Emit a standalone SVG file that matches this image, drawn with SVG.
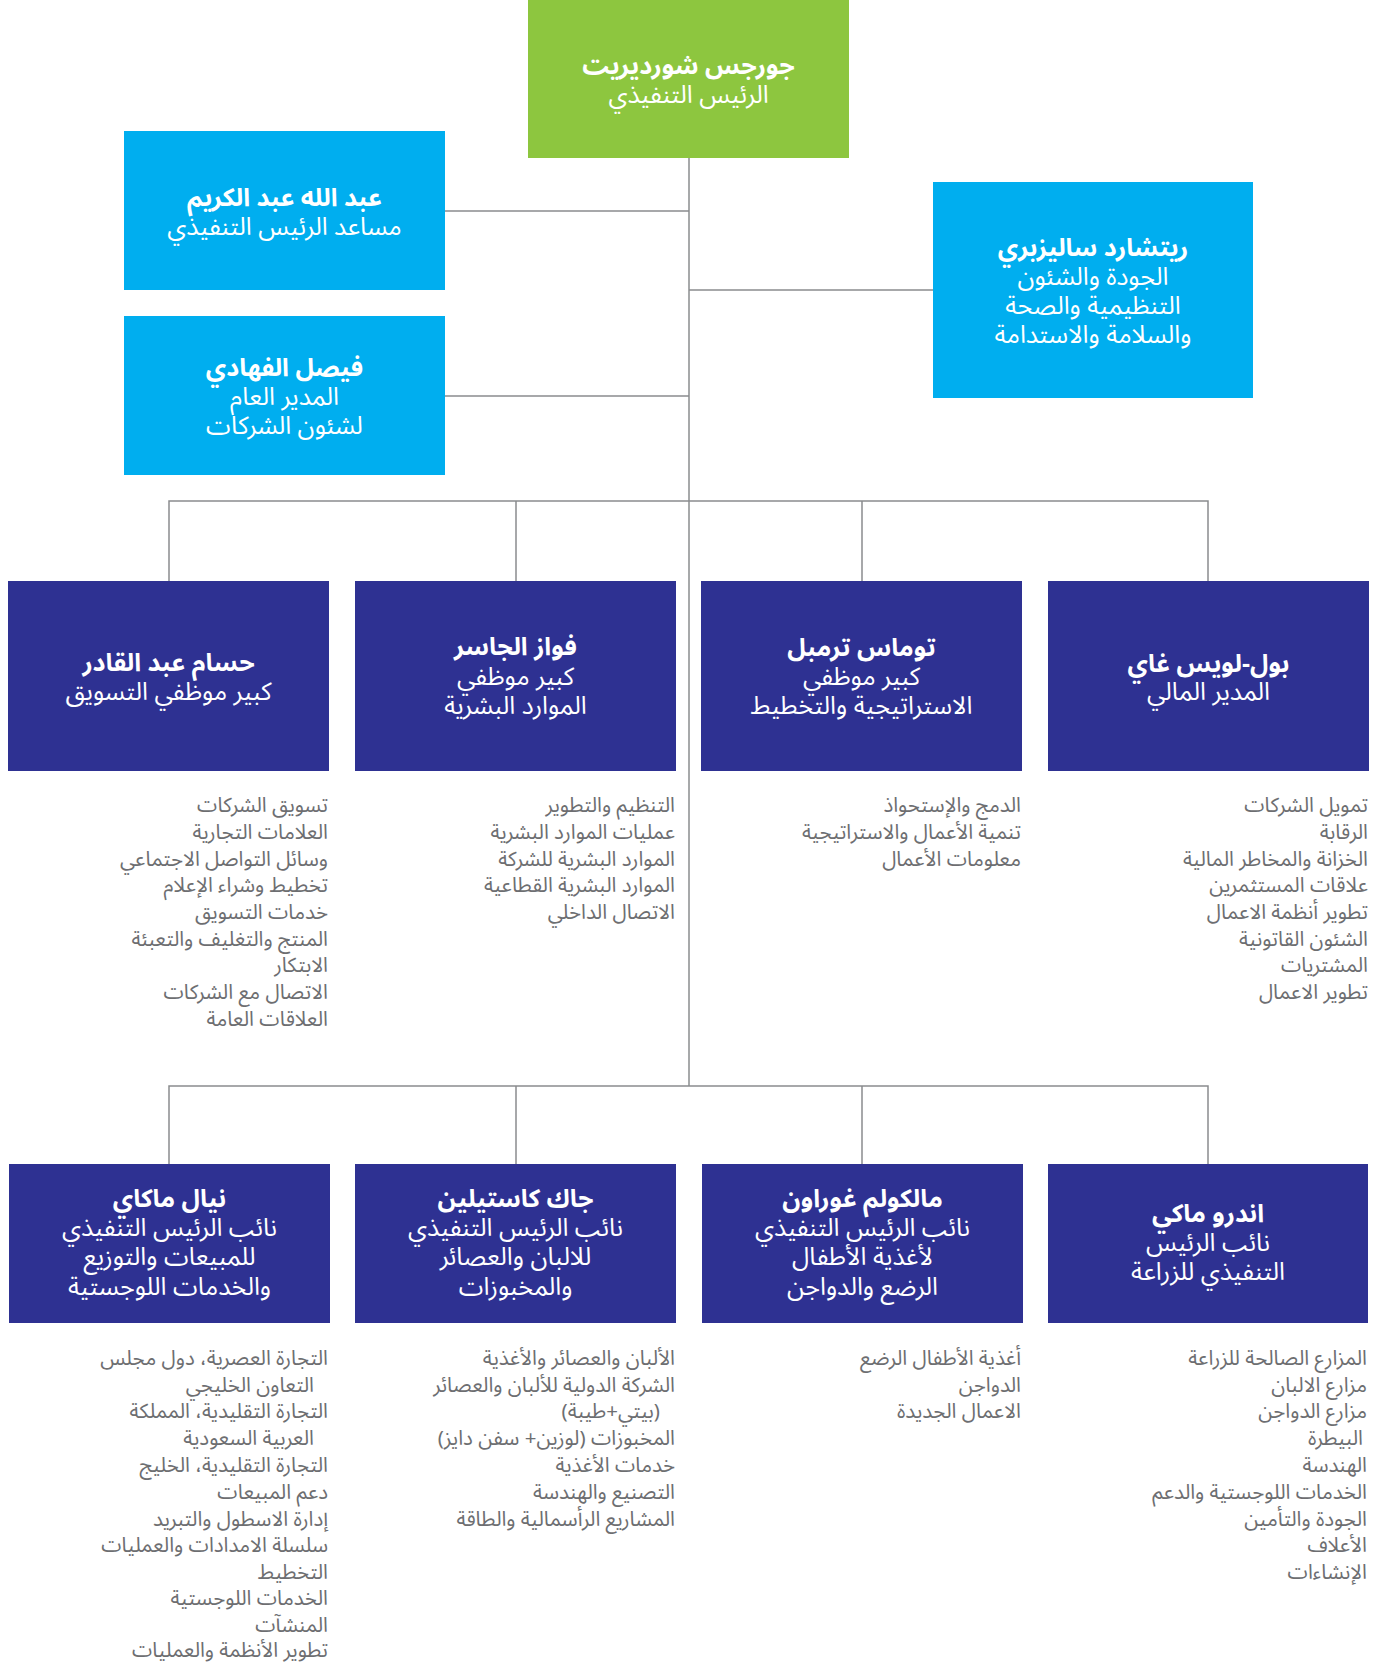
<svg xmlns="http://www.w3.org/2000/svg" width="1391" height="1665" viewBox="0 0 1391 1665">
<style>
.bx text{font-family:"Noto Sans Arabic","DejaVu Sans",sans-serif;fill:#fff;font-size:25px;text-anchor:middle;direction:rtl}
.bx .n{font-weight:bold}
.g{fill:#8DC63F}.c{fill:#00AEEF}.d{fill:#2E3192}
.ls text{font-family:"Noto Sans Arabic","DejaVu Sans",sans-serif;fill:#6D6E71;font-size:20.5px;direction:rtl;text-anchor:start}
.cn{stroke:#8A8C8E;stroke-width:1.5;fill:none}
</style>
<rect width="1391" height="1665" fill="#fff"/>
<g id="connectors" class="cn">
<path d="M689 158V1086"/>
<path d="M445 211H689M445 396H689M689 290H933"/>
<path d="M169 581V501H1208V581M516 501V581M862 501V581"/>
<path d="M169 1164V1086H1208V1164M516 1086V1164M862 1086V1164"/>
</g>
<g id="ceo" class="bx"><rect class="g" x="528" y="0" width="321" height="158"/>
<text class="n" x="688.5" y="74">جورجس شورديريت</text><text x="688.5" y="103">الرئيس التنفيذي</text></g>
<g id="abdullah" class="bx"><rect class="c" x="124" y="131" width="321" height="159"/>
<text class="n" x="284.5" y="206">عبد الله عبد الكريم</text><text x="284.5" y="235">مساعد الرئيس التنفيذي</text></g>
<g id="faisal" class="bx"><rect class="c" x="124" y="316" width="321" height="159"/>
<text class="n" x="284.5" y="376">فيصل الفهادي</text><text x="284.5" y="405">المدير العام</text><text x="284.5" y="434">لشئون الشركات</text></g>
<g id="richard" class="bx"><rect class="c" x="933" y="182" width="320" height="216"/>
<text class="n" x="1093" y="256">ريتشارد ساليزبري</text><text x="1093" y="285">الجودة والشئون</text><text x="1093" y="314">التنظيمية والصحة</text><text x="1093" y="343">والسلامة والاستدامة</text></g>

<g id="hussam" class="bx"><rect class="d" x="8" y="581" width="321" height="190"/>
<text class="n" x="168.5" y="671">حسام عبد القادر</text><text x="168.5" y="700">كبير موظفي التسويق</text></g>
<g id="fawaz" class="bx"><rect class="d" x="355" y="581" width="321" height="190"/>
<text class="n" x="515.5" y="655">فواز الجاسر</text><text x="515.5" y="685">كبير موظفي</text><text x="515.5" y="714">الموارد البشرية</text></g>
<g id="thomas" class="bx"><rect class="d" x="701" y="581" width="321" height="190"/>
<text class="n" x="861.5" y="656">توماس ترمبل</text><text x="861.5" y="685">كبير موظفي</text><text x="861.5" y="714">الاستراتيجية والتخطيط</text></g>
<g id="paul" class="bx"><rect class="d" x="1048" y="581" width="321" height="190"/>
<text class="n" x="1208.5" y="672">بول-لويس غاي</text><text x="1208.5" y="700">المدير المالي</text></g>

<g id="hussam-list" class="ls">
<text x="328" y="812">تسويق الشركات</text><text x="328" y="839">العلامات التجارية</text><text x="328" y="866">وسائل التواصل الاجتماعي</text><text x="328" y="892">تخطيط وشراء الإعلام</text><text x="328" y="919">خدمات التسويق</text><text x="328" y="946">المنتج والتغليف والتعبئة</text><text x="328" y="972">الابتكار</text><text x="328" y="999">الاتصال مع الشركات</text><text x="328" y="1026">العلاقات العامة</text>
</g>
<g id="fawaz-list" class="ls">
<text x="675" y="812">التنظيم والتطوير</text><text x="675" y="839">عمليات الموارد البشرية</text><text x="675" y="866">الموارد البشرية للشركة</text><text x="675" y="892">الموارد البشرية القطاعية</text><text x="675" y="919">الاتصال الداخلي</text>
</g>
<g id="thomas-list" class="ls">
<text x="1021" y="812">الدمج والإستحواذ</text><text x="1021" y="839">تنمية الأعمال والاستراتيجية</text><text x="1021" y="866">معلومات الأعمال</text>
</g>
<g id="paul-list" class="ls">
<text x="1368" y="812">تمويل الشركات</text><text x="1368" y="839">الرقابة</text><text x="1368" y="866">الخزانة والمخاطر المالية</text><text x="1368" y="892">علاقات المستثمرين</text><text x="1368" y="919">تطوير أنظمة الاعمال</text><text x="1368" y="946">الشئون القاتونية</text><text x="1368" y="972">المشتريات</text><text x="1368" y="999">تطوير الاعمال</text>
</g>

<g id="niall" class="bx"><rect class="d" x="9" y="1164" width="321" height="159"/>
<text class="n" x="169.5" y="1207">نيال ماكاي</text><text x="169.5" y="1236">نائب الرئيس التنفيذي</text><text x="169.5" y="1265">للمبيعات والتوزيع</text><text x="169.5" y="1295">والخدمات اللوجستية</text></g>
<g id="jacques" class="bx"><rect class="d" x="355" y="1164" width="321" height="159"/>
<text class="n" x="515.5" y="1207">جاك كاستيلين</text><text x="515.5" y="1236">نائب الرئيس التنفيذي</text><text x="515.5" y="1265">للالبان والعصائر</text><text x="515.5" y="1295">والمخبوزات</text></g>
<g id="malcolm" class="bx"><rect class="d" x="702" y="1164" width="321" height="159"/>
<text class="n" x="862.5" y="1207">مالكولم غوراون</text><text x="862.5" y="1236">نائب الرئيس التنفيذي</text><text x="862.5" y="1265">لأغذية الأطفال</text><text x="862.5" y="1295">الرضع والدواجن</text></g>
<g id="andrew" class="bx"><rect class="d" x="1048" y="1164" width="320" height="159"/>
<text class="n" x="1208" y="1222">اندرو ماكي</text><text x="1208" y="1251">نائب الرئيس</text><text x="1208" y="1280">التنفيذي للزراعة</text></g>

<g id="niall-list" class="ls">
<text x="328" y="1365">التجارة العصرية، دول مجلس</text><text x="314" y="1392">التعاون الخليجي</text><text x="328" y="1418">التجارة التقليدية، المملكة</text><text x="314" y="1445">العربية السعودية</text><text x="328" y="1472">التجارة التقليدية، الخليج</text><text x="328" y="1499">دعم المبيعات</text><text x="328" y="1526">إدارة الاسطول والتبريد</text><text x="328" y="1552">سلسلة الامدادات والعمليات</text><text x="328" y="1579">التخطيط</text><text x="328" y="1605">الخدمات اللوجستية</text><text x="328" y="1632">المنشآت</text><text x="328" y="1657">تطوير الأنظمة والعمليات</text>
</g>
<g id="jacques-list" class="ls">
<text x="675" y="1365">الألبان والعصائر والأغذية</text><text x="675" y="1392">الشركة الدولية للألبان والعصائر</text><text x="660" y="1418">(بيتي+طيبة)</text><text x="675" y="1445">المخبوزات (لوزين+ سفن دايز)</text><text x="675" y="1472">خدمات الأغذية</text><text x="675" y="1499">التصنيع والهندسة</text><text x="675" y="1526">المشاريع الرأسمالية والطاقة</text>
</g>
<g id="malcolm-list" class="ls">
<text x="1021" y="1365">أغذية الأطفال الرضع</text><text x="1021" y="1392">الدواجن</text><text x="1021" y="1418">الاعمال الجديدة</text>
</g>
<g id="andrew-list" class="ls">
<text x="1367" y="1365">المزارع الصالحة للزراعة</text><text x="1367" y="1392">مزارع الالبان</text><text x="1367" y="1418">مزارع الدواجن</text><text x="1363" y="1445">البيطرة</text><text x="1367" y="1472">الهندسة</text><text x="1367" y="1499">الخدمات اللوجستية والدعم</text><text x="1367" y="1526">الجودة والتأمين</text><text x="1367" y="1552">الأعلاف</text><text x="1367" y="1579">الإنشاءات</text>
</g>
</svg>
